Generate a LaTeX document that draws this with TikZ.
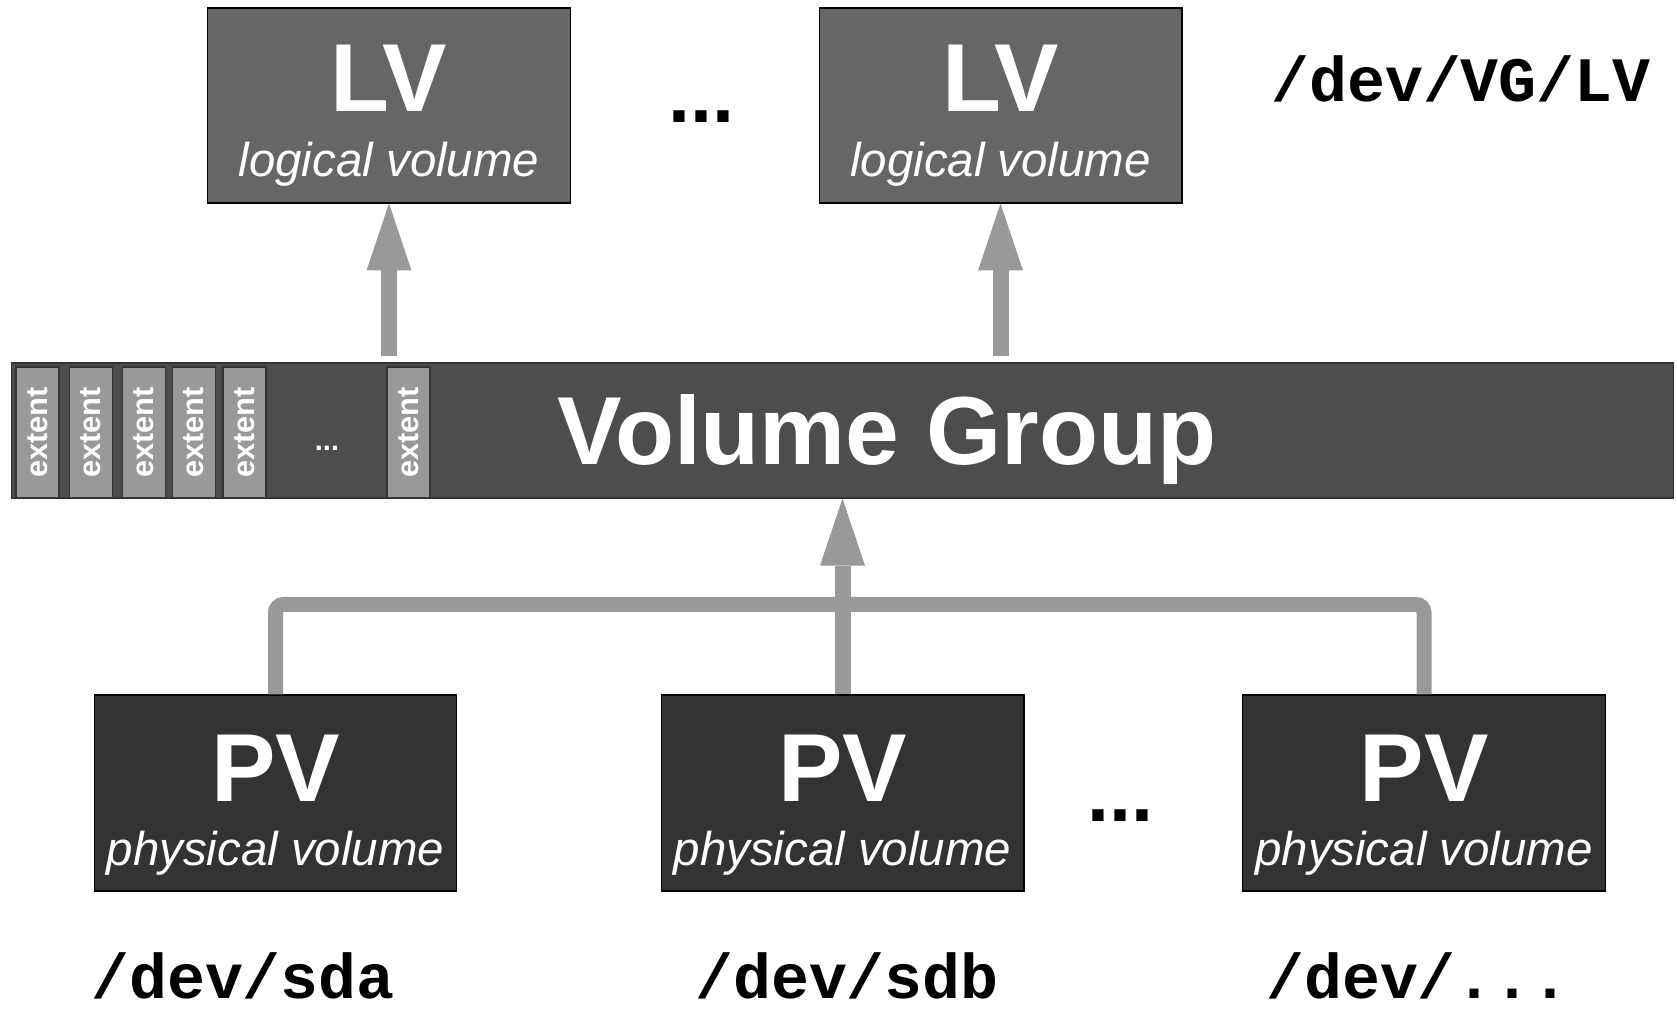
\documentclass[tikz,border=0pt]{standalone}
\usepackage{fontspec}
\setmainfont{Liberation Sans}
\newfontfamily\pathfont{Liberation Mono}
\usepackage{tikz}
\usetikzlibrary{arrows.meta}

\definecolor{lvgray}{HTML}{666666}
\definecolor{vggray}{HTML}{4D4D4D}
\definecolor{pvgray}{HTML}{333333}
\definecolor{linkgray}{HTML}{999999}

\tikzset{
  lvbox/.style={draw=black, line width=0.6pt, fill=lvgray, minimum width=7.26cm, minimum height=3.9cm, inner sep=0pt},
  pvbox/.style={draw=black, line width=0.6pt, fill=pvgray, minimum width=7.26cm, minimum height=3.92cm, inner sep=0pt},
  vgbar/.style={draw=black!80, line width=0.6pt, fill=vggray, minimum width=33.26cm, minimum height=2.7cm, inner sep=0pt},
  extentbox/.style={draw=black!80, line width=0.6pt, fill=linkgray, rotate=90, minimum width=2.62cm, minimum height=0.86cm, inner sep=0pt, text=white, font=\fontsize{17.5}{18}\selectfont\bfseries},
  bigtext/.style={anchor=base, inner sep=0pt, text=white, font=\fontsize{55}{60}\selectfont\bfseries},
  subtext/.style={anchor=base, inner sep=0pt, text=white, font=\fontsize{27}{30}\selectfont\itshape},
  pathtext/.style={anchor=base, inner sep=0pt, font=\fontsize{36}{40}\selectfont\pathfont\bfseries},
  moredots/.style={anchor=base, inner sep=0pt, font=\fontsize{45}{50}\selectfont\bfseries},
  uparrow/.style={draw=linkgray, line width=0.32cm, -{Triangle[width=0.9cm,length=1.34cm,line width=0pt]}},
  linkline/.style={draw=linkgray, line width=0.3cm, rounded corners=0.16cm}
}

\begin{document}
\begin{tikzpicture}[x=0.02cm, y=-0.02cm]
\useasboundingbox (0,0) rectangle (1677,1013);

% logical volumes
\node[lvbox] (lvone) at (389,105.5) {};
\node[bigtext] (lvone-title) at (389,112) {LV};
\node[subtext] (lvone-sub) at (389,177) {logical volume};

\node[moredots] (lvdots) at (701,123) {...};

\node[lvbox] (lvtwo) at (1000.5,105.5) {};
\node[bigtext] (lvtwo-title) at (1000.5,112) {LV};
\node[subtext] (lvtwo-sub) at (1000.5,177) {logical volume};

\node[pathtext] (lvpath) at (1461,102) {/dev/VG/LV};

% volume group with its extents
\node[vgbar] (vg) at (842.5,430.5) {};
\foreach \i/\x in {1/37.5, 2/91, 3/144, 4/194, 5/244.5, 6/408.5}
  \node[extentbox] (ext\i) at (\x,432.5) {extent};
\node[anchor=base, inner sep=0pt, text=white, font=\fontsize{16.5}{18}\selectfont\bfseries] (extdots) at (327,451) {...};
\node[bigtext] (vgtitle) at (887,464) {Volume Group};

% physical volumes
\node[pvbox] (pvone) at (275.5,793) {};
\node[bigtext] (pvone-title) at (275.5,801) {PV};
\node[subtext] (pvone-sub) at (275.5,865) {physical volume};

\node[pvbox] (pvtwo) at (842.5,793) {};
\node[bigtext] (pvtwo-title) at (842.5,801) {PV};
\node[subtext] (pvtwo-sub) at (842.5,865) {physical volume};

\node[moredots] (pvdots) at (1120,821) {...};

\node[pvbox] (pvthree) at (1424,793) {};
\node[bigtext] (pvthree-title) at (1424,801) {PV};
\node[subtext] (pvthree-sub) at (1424,865) {physical volume};

\node[pathtext] (sdapath) at (243,998) {/dev/sda};
\node[pathtext] (sdbpath) at (847,998) {/dev/sdb};
\node[pathtext] (morepath) at (1418,998) {/dev/...};

%arrows
\draw[uparrow, shorten <=0.12cm] (vg.north -| lvone.south) -- (lvone.south);
\draw[uparrow, shorten <=0.12cm] (vg.north -| lvtwo.south) -- (lvtwo.south);
\draw[linkline] (pvone.north) -- ++(0,-90) -| (pvthree.north);
\draw[uparrow] (pvtwo.north) -- (vg.south);

\end{tikzpicture}
\end{document}
